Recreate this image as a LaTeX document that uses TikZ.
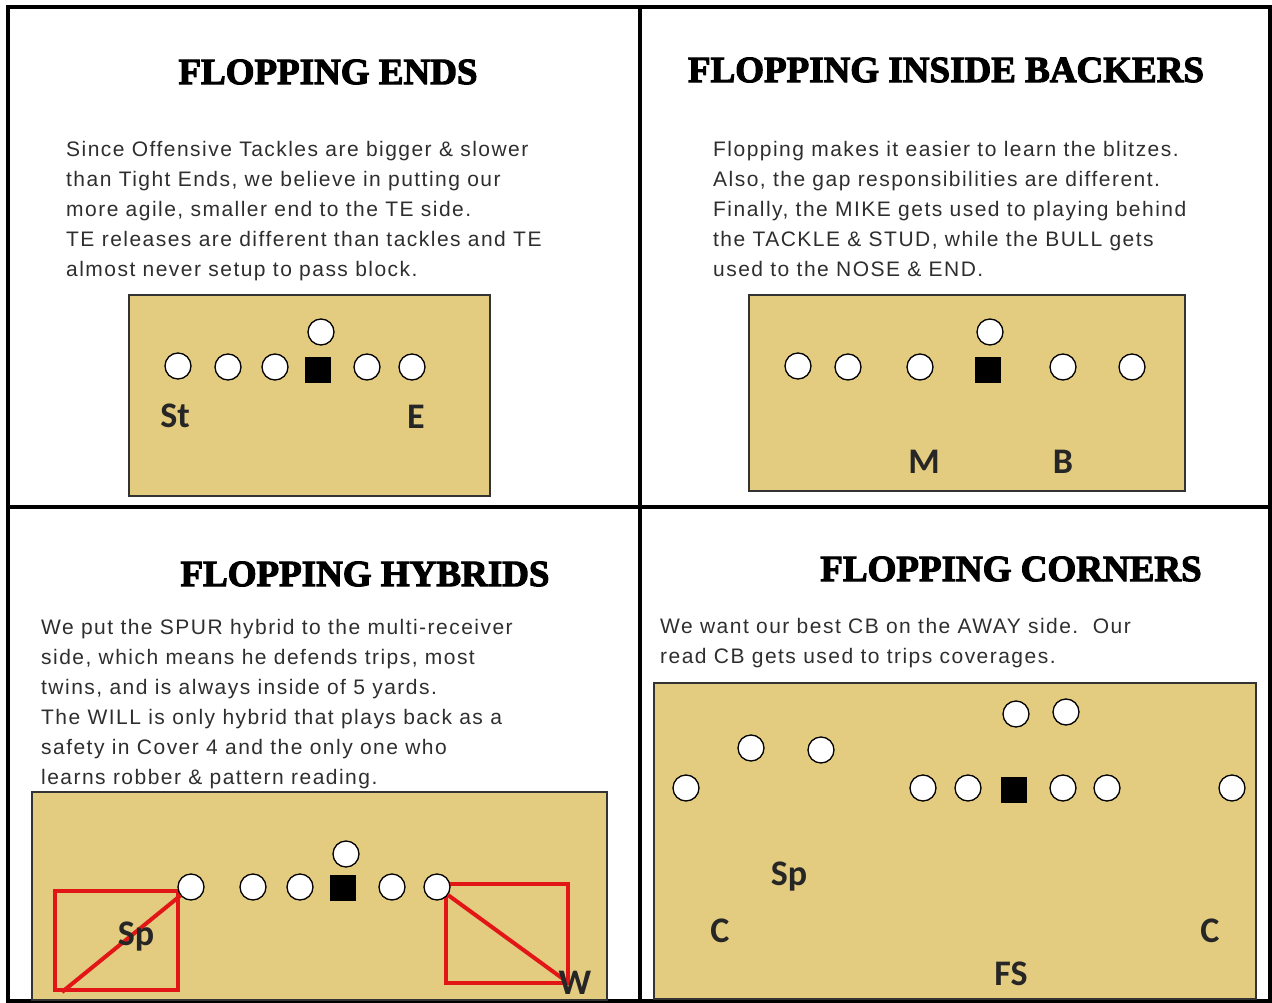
\documentclass[tikz,border=0pt]{standalone}
\usepackage{fontspec}
\setmainfont{Liberation Sans}
\newfontfamily\headfont{Liberation Serif Bold}[FakeBold=3]
\newfontfamily\bodyfont{Liberation Sans}[LetterSpace=7]
\newfontfamily\markfont{Carlito Bold}
\usetikzlibrary{positioning}

\definecolor{fieldtan}{RGB}{227,203,128}
\definecolor{zonered}{RGB}{226,22,22}

\begin{document}
\begin{tikzpicture}[
    x=1pt, y=-1pt,
    frame/.style={draw=black, line width=3.5pt},
    title/.style={font=\headfont\fontsize{37}{37}\selectfont, inner sep=0pt},
    body/.style={font=\bodyfont\fontsize{21}{30}\selectfont, text=black!82,
        align=left, anchor=north west, inner sep=0pt},
    field/.style={draw=black!80, line width=2pt, fill=fieldtan},
    player/.style={draw, circle, fill=white, line width=1.3pt,
        minimum size=26pt, inner sep=0pt},
    snapper/.style={fill=black, rectangle, minimum size=26pt, inner sep=0pt},
    tag/.style={font=\markfont\fontsize{36}{36}\selectfont, anchor=base,
        inner sep=0pt, text=black!85},
    zone/.style={draw=zonered, line width=4pt},
]
\useasboundingbox (0,0) rectangle (1272,1003);

% === Frame ===
\draw[frame] (8,7) rectangle (1270,1001);
\draw[frame] (640,7) -- (640,1001);
\draw[frame] (8,507) -- (1270,507);

% === Flopping ends (top left) ===
\node[title] (tends) at (328,72) {FLOPPING ENDS};
\node[body] (xends) at (66,141) {Since Offensive Tackles are bigger \& slower\\
    than Tight Ends, we believe in putting our\\
    more agile, smaller end to the TE side.\\
    TE releases are different than tackles and TE\\
    almost never setup to pass block.};
\draw[field] (129,295) rectangle (490,496);
\node[player] (ea) at (178,366) {};
\node[player] (eb) at (228,367) {};
\node[player] (ec) at (275,367) {};
\node[snapper] (eq) at (318,370) {};
\node[player] (ed) at (367,367) {};
\node[player] (ee) at (412,367) {};
\node[player] (et) at (321,332) {};
\node[tag] (lst) at (175,427) {St};
\node[tag] (lend) at (416,428) {E};

% === Flopping inside backers (top right) ===
\node[title] (tback) at (946,70) {FLOPPING INSIDE BACKERS};
\node[body] (xback) at (713,141) {Flopping makes it easier to learn the blitzes.\\
    Also, the gap responsibilities are different.\\
    Finally, the MIKE gets used to playing behind\\
    the TACKLE \& STUD, while the BULL gets\\
    used to the NOSE \& END.};
\draw[field] (749,295) rectangle (1185,491);
\node[player] (ba) at (798,366) {};
\node[player] (bb) at (848,367) {};
\node[player] (bc) at (920,367) {};
\node[snapper] (bq) at (988,370) {};
\node[player] (bd) at (1063,367) {};
\node[player] (be) at (1132,367) {};
\node[player] (bt) at (990,332) {};
\node[tag] (lmike) at (924,473) {M};
\node[tag] (lbull) at (1063,473) {B};

% === Flopping hybrids (bottom left) ===
\node[title] (thyb) at (365,574) {FLOPPING HYBRIDS};
\node[body] (xhyb) at (41,619) {We put the SPUR hybrid to the multi-receiver\\
    side, which means he defends trips, most\\
    twins, and is always inside of 5 yards.\\
    The WILL is only hybrid that plays back as a\\
    safety in Cover 4 and the only one who\\
    learns robber \& pattern reading.};
\draw[field] (32,792) rectangle (607,1000);
\draw[zone] (55,891) rectangle (178,990);
\draw[zone] (446,884) rectangle (568,983);
\coordinate (spurend) at (62,992);
\coordinate (willend) at (566,981);
\node[player] (ha) at (191,887) {};
\node[player] (hb) at (253,887) {};
\node[player] (hc) at (300,887) {};
\node[snapper] (hq) at (343,888) {};
\node[player] (hd) at (392,887) {};
\node[player] (he) at (437,887) {};
\node[player] (ht) at (346,854) {};
\draw[zone] (spurend) -- (ha);
\draw[zone] (he) -- (willend);
\node[tag] (lspur) at (136,945) {Sp};
\node[tag] (lwill) at (575,994) {W};

% === Flopping corners (bottom right) ===
\node[title] (tcorn) at (1011,569) {FLOPPING CORNERS};
\node[body] (xcorn) at (660,618) {We want our best CB on the AWAY side.~~Our\\
    read CB gets used to trips coverages.};
\draw[field] (654,683) rectangle (1256,999);
\node[player] (ca) at (686,788) {};
\node[player] (cb) at (751,748) {};
\node[player] (cc) at (821,750) {};
\node[player] (cd) at (923,788) {};
\node[player] (ce) at (968,788) {};
\node[snapper] (cq) at (1014,790) {};
\node[player] (cf) at (1063,788) {};
\node[player] (cg) at (1107,788) {};
\node[player] (ch) at (1232,788) {};
\node[player] (ct) at (1016,714) {};
\node[player] (cu) at (1066,712) {};
\node[tag] (lspur2) at (789,885) {Sp};
\node[tag] (lcorn) at (720,942) {C};
\node[tag] (lcorn2) at (1210,942) {C};
\node[tag] (lfree) at (1011,985) {FS};

\end{tikzpicture}
\end{document}
